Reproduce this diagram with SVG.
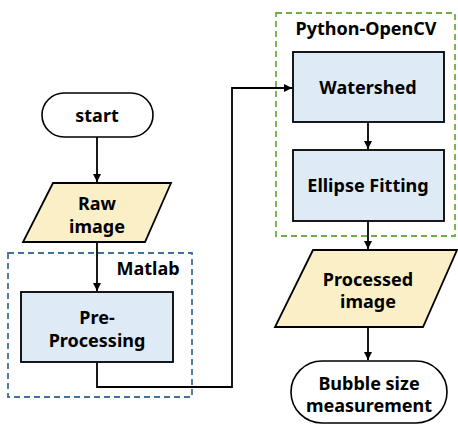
<svg xmlns="http://www.w3.org/2000/svg" width="458" height="425" viewBox="0 0 458 425">
<style>
text{font-family:"Noto Sans","Open Sans","Liberation Sans",sans-serif;font-weight:bold;font-size:18px;fill:#000;text-anchor:middle}
.term{fill:#fff;stroke:#000;stroke-width:1.6}
.io{fill:#FBEFC8;stroke:#000;stroke-width:1.8}
.proc{fill:#DEEAF6;stroke:#000;stroke-width:1.8}
.conn{fill:none;stroke:#000;stroke-width:1.8}
</style>
<defs>
<marker id="ah" markerWidth="10" markerHeight="10" refX="9" refY="5" orient="auto" markerUnits="userSpaceOnUse">
<path d="M1,1 L9,5 L1,9 Z" fill="#000"/>
</marker>
</defs>
<rect width="458" height="425" fill="#fff"/>
<g id="matlab-group">
<rect x="8" y="253" width="184" height="144" fill="none" stroke="#41719C" stroke-width="1.8" stroke-dasharray="6,4"/>
<rect x="107" y="254" width="84" height="28" fill="#fff"/>
<text x="148" y="275">Matlab</text>
</g>
<g id="python-group">
<rect x="276" y="13" width="179" height="223" fill="none" stroke="#70AD47" stroke-width="1.8" stroke-dasharray="6,4"/>
<text x="366" y="35">Python-OpenCV</text>
</g>
<g id="connectors">
<line class="conn" x1="97" y1="137" x2="97" y2="182" marker-end="url(#ah)"/>
<line class="conn" x1="97" y1="242" x2="97" y2="291" marker-end="url(#ah)"/>
<polyline class="conn" points="97,362 97,387 232,387 232,88 292,88" marker-end="url(#ah)"/>
<line class="conn" x1="368" y1="122" x2="368" y2="149" marker-end="url(#ah)"/>
<line class="conn" x1="368" y1="221" x2="368" y2="249" marker-end="url(#ah)"/>
<line class="conn" x1="368" y1="327" x2="368" y2="360" marker-end="url(#ah)"/>
</g>
<g id="start">
<rect class="term" x="42" y="93" width="111" height="44" rx="22"/>
<text x="97" y="122">start</text>
</g>
<g id="raw-image">
<polygon class="io" points="53,183 171,183 145,242 23,242"/>
<text x="97" y="210">Raw</text>
<text x="97" y="233">image</text>
</g>
<g id="pre-processing">
<rect class="proc" x="21" y="292" width="152" height="70"/>
<text x="97" y="324">Pre-</text>
<text x="97" y="347">Processing</text>
</g>
<g id="watershed">
<rect class="proc" x="293" y="52" width="151" height="70"/>
<text x="368" y="94">Watershed</text>
</g>
<g id="ellipse-fitting">
<rect class="proc" x="293" y="150" width="151" height="71"/>
<text x="368" y="192">Ellipse Fitting</text>
</g>
<g id="processed-image">
<polygon class="io" points="313,250 457,250 423,327 275,327"/>
<text x="368" y="286">Processed</text>
<text x="368" y="308">image</text>
</g>
<g id="bubble-size">
<rect class="term" x="291" y="361" width="156" height="62" rx="31"/>
<text x="369" y="390">Bubble size</text>
<text x="369" y="412">measurement</text>
</g>
</svg>
